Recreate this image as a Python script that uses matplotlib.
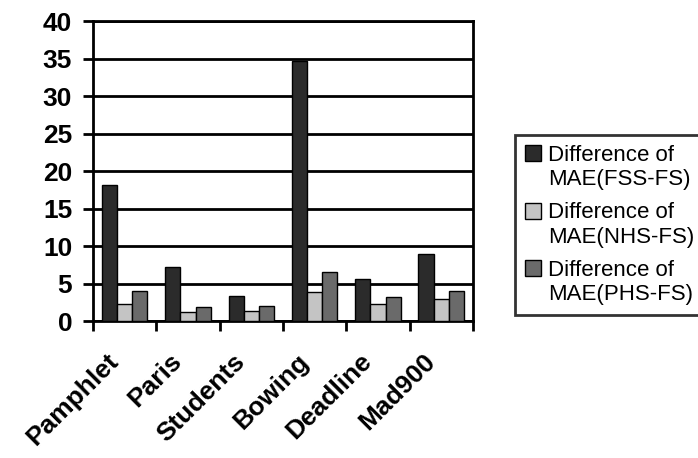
import matplotlib
matplotlib.use("Agg")
import matplotlib.pyplot as plt
from matplotlib.patches import Rectangle
from matplotlib.legend_handler import HandlerPatch
from matplotlib.transforms import ScaledTranslation
import numpy as np

plt.rcParams['font.family'] = ['Liberation Sans', 'DejaVu Sans']

categories = ["Pamphlet", "Paris", "Students", "Bowing", "Deadline", "Mad900"]
series_names = ["Difference of\nMAE(FSS-FS)",
                "Difference of\nMAE(NHS-FS)",
                "Difference of\nMAE(PHS-FS)"]
fss = [18.2, 7.2, 3.4, 34.7, 5.6, 8.9]
nhs = [2.3, 1.2, 1.3, 3.9, 2.3, 3.0]
phs = [4.0, 1.9, 2.0, 6.5, 3.2, 4.0]
yticks = [0, 5, 10, 15, 20, 25, 30, 35, 40]

colors = ["#2b2b2b", "#c4c4c4", "#6a6a6a"]


class TopSquare(HandlerPatch):
    """Legend key drawn as a small square beside the first text line."""

    def create_artists(self, legend, orig_handle, xdescent, ydescent,
                       width, height, fontsize, trans):
        s = 0.72 * fontsize
        base = 0.64 * fontsize
        p = Rectangle((-xdescent, base), s, s,
                      facecolor=orig_handle.get_facecolor(),
                      edgecolor="black", linewidth=1.0, transform=trans)
        return [p]


fig = plt.figure(figsize=(6.98, 4.58), dpi=100)
ax = fig.add_axes([0.1332, 0.2991, 0.5444, 0.655])

x = np.arange(len(categories))
w = 0.24
handles = []
for i, (vals, c, name) in enumerate(zip([fss, nhs, phs], colors, series_names)):
    bars = ax.bar(x + (i - 1) * w, vals, width=w, color=c, edgecolor="black",
                  linewidth=1.0, label=name, zorder=3)
    handles.append(bars.patches[0])

ax.set_xlim(-0.5, len(categories) - 0.5)
ax.set_ylim(0, 40)
ax.set_yticks(yticks)
ax.set_yticklabels([str(t) for t in yticks], fontsize=19, fontweight="bold")
ax.yaxis.grid(True, color="black", linewidth=2, zorder=1)
ax.tick_params(axis="y", length=7, width=2, pad=8, direction="out")

# category boundaries carry the x tick marks; labels sit at the centers
ax.set_xticks(np.arange(len(categories) + 1) - 0.5)
ax.set_xticklabels([])
ax.tick_params(axis="x", length=7, width=2, direction="out")
ax.set_xticks(x, minor=True)
ax.set_xticklabels(categories, minor=True, rotation=45, ha="right",
                   va="baseline", rotation_mode="anchor",
                   fontsize=19, fontweight="bold")
ax.tick_params(axis="x", which="minor", length=0, pad=30)
shift = ScaledTranslation(-0.05, 0, fig.dpi_scale_trans)
for lbl in ax.get_xticklabels(minor=True):
    lbl.set_transform(lbl.get_transform() + shift)

for s in ax.spines.values():
    s.set_linewidth(2)
    s.set_color("black")

leg = fig.legend(handles, series_names, loc="upper left",
                 bbox_to_anchor=(0.7378, 0.7052),
                 handler_map={Rectangle: TopSquare()},
                 fontsize=16, frameon=True, fancybox=False,
                 handlelength=0.72, handleheight=0.8, handletextpad=0.3,
                 labelspacing=0.55, borderpad=0.45, borderaxespad=0)
for t in leg.get_texts():
    t.set_linespacing(1.2)
leg.get_frame().set_edgecolor("black")
leg.get_frame().set_linewidth(2)

fig.savefig("out.png", dpi=100)
